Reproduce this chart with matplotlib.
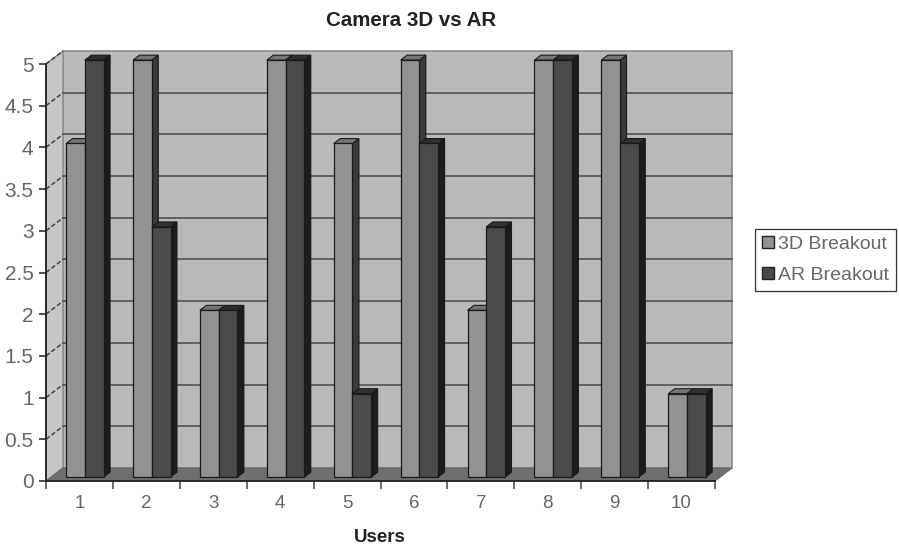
import matplotlib
matplotlib.use("Agg")
import matplotlib.pyplot as plt
from matplotlib.patches import Polygon, Patch

plt.rcParams['font.family'] = ['Liberation Sans', 'DejaVu Sans']

users = ['1', '2', '3', '4', '5', '6', '7', '8', '9', '10']
breakout_3d = [4, 5, 2, 5, 4, 5, 2, 5, 5, 1]
breakout_ar = [5, 3, 2, 5, 1, 4, 3, 5, 4, 1]
y_ticks = [0, 0.5, 1, 1.5, 2, 2.5, 3, 3.5, 4, 4.5, 5]

W, H = 899, 549
DX, DY = 0.254, 0.156   # depth of the box in data units


def proj(x, y, d=0.0):
    return (x + d * DX, y + d * DY)


def box(ax, x, w, v, front, side, top):
    d0, d1 = 0.3, 0.68
    ec = '#1a1a1a'
    ax.add_patch(Polygon([proj(x + w, 0, d0), proj(x + w, 0, d1), proj(x + w, v, d1), proj(x + w, v, d0)],
                         fc=side, ec=ec, lw=0.8, zorder=3, clip_on=False))
    ax.add_patch(Polygon([proj(x, v, d0), proj(x + w, v, d0), proj(x + w, v, d1), proj(x, v, d1)],
                         fc=top, ec=ec, lw=0.8, zorder=3, clip_on=False))
    ax.add_patch(Polygon([proj(x, 0, d0), proj(x + w, 0, d0), proj(x + w, v, d0), proj(x, v, d0)],
                         fc=front, ec=ec, lw=0.9, zorder=3, clip_on=False))


fig = plt.figure(figsize=(W / 100, H / 100), dpi=100)
ax = fig.add_axes([46 / W, 1 - 481 / H, 669 / W, 417 / H])
ax.set_xlim(0, 10)
ax.set_ylim(0, 5)
ax.patch.set_visible(False)

# walls and floor
ax.add_patch(Polygon([proj(0, 0, 1), proj(10, 0, 1), proj(10, 5, 1), proj(0, 5, 1)],
                     fc='#b9b9b9', ec='#8c8c8c', lw=1.2, zorder=1, clip_on=False))
ax.add_patch(Polygon([proj(0, 0), proj(0, 0, 1), proj(0, 5, 1), proj(0, 5)],
                     fc='#c6c6c6', ec='#8c8c8c', lw=1.0, zorder=1, clip_on=False))
ax.add_patch(Polygon([proj(0, 0), proj(10, 0), proj(10, 0, 1), proj(0, 0, 1)],
                     fc='#6f6f6f', ec='#666666', lw=0.8, zorder=1, clip_on=False))

# gridlines on the back wall, dashed on the side wall
for t in y_ticks[1:-1]:
    ax.plot([proj(0, t, 1)[0], proj(10, t, 1)[0]], [proj(0, t, 1)[1]] * 2,
            color='#5a5a5a', lw=1.3, zorder=2, clip_on=False)
for t in y_ticks[1:]:
    a, b = proj(0, t), proj(0, t, 1)
    ax.plot([a[0], b[0]], [a[1], b[1]], color='#444444', lw=1.1, ls=(0, (3, 1.5)), zorder=2, clip_on=False)

# bars
bar_w = 0.28
for i in range(len(users)):
    box(ax, i + 0.225, bar_w, breakout_3d[i], '#929292', '#3a3a3a', '#767676')
    box(ax, i + 0.225 + bar_w, bar_w, breakout_ar[i], '#4b4b4b', '#1c1c1c', '#303030')

# axes
for s in ['top', 'right']:
    ax.spines[s].set_visible(False)
for s in ['left', 'bottom']:
    ax.spines[s].set_color('#222222')
    ax.spines[s].set_linewidth(1.3)
    ax.spines[s].set_zorder(4)
ax.set_yticks(y_ticks)
ax.set_yticklabels([str(t) for t in y_ticks], fontsize=15, color='#666666')
ax.tick_params(axis='y', length=5, width=1.1, color='#222222', pad=4)
ax.set_xticks(range(11))
ax.set_xticklabels([])
ax.tick_params(axis='x', which='major', length=6, width=1.1, color='#444444')
ax.set_xticks([i + 0.5 for i in range(10)], minor=True)
ax.set_xticklabels(users, minor=True, fontsize=13.5, color='#666666')
ax.tick_params(axis='x', which='minor', length=0, pad=10)

fig.text(411 / W, 1 - 21 / H, 'Camera 3D vs AR', ha='center', va='center',
         fontsize=14.8, fontweight='bold', color='#222222')
fig.text(380 / W, 1 - 537 / H, 'Users', ha='center', va='center',
         fontsize=13.5, fontweight='bold', color='#222222')

handles = [Patch(fc='#929292', ec='#222222', label='3D Breakout'),
           Patch(fc='#4b4b4b', ec='#222222', label='AR Breakout')]
leg = fig.legend(handles=handles, loc='center left', bbox_to_anchor=(755 / W, 1 - 260 / H),
                 fontsize=14, fancybox=False, framealpha=1, edgecolor='#333333',
                 handlelength=0.6, handleheight=0.6, handletextpad=0.2,
                 labelspacing=0.72, borderpad=0.38, borderaxespad=0, labelcolor='#666666')
leg.get_frame().set_linewidth(0.9)

fig.savefig('out.png', dpi=100, facecolor='white')
